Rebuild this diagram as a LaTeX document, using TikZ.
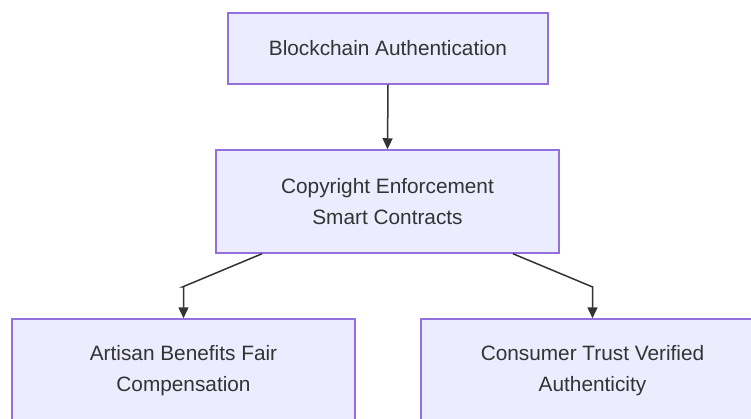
\documentclass[tikz,border=0pt]{standalone}
\usepackage{fontspec}
\setmainfont{Liberation Sans}
\usetikzlibrary{arrows.meta,calc}
\definecolor{boxfill}{HTML}{ECECFF}
\definecolor{boxline}{HTML}{9370DB}
\definecolor{ink}{HTML}{333333}
\tikzset{
  flowbox/.style={draw=boxline, fill=boxfill, line width=1.5pt, text=ink,
    align=center, inner sep=0pt, minimum width=343pt, minimum height=103pt,
    font=\fontsize{20.8}{31}\selectfont},
  arr/.style={draw=ink, line width=1.5pt, -{Triangle[length=11pt,width=10pt]}}
}
\begin{document}
\begin{tikzpicture}[x=1pt,y=-1pt]
\useasboundingbox (0,0) rectangle (751,419);
\clip (0,0) rectangle (751,419);
\fill[white] (0,0) rectangle (751,419);
\node[flowbox, minimum width=320pt, minimum height=71pt] (top) at (388,48.5) {Blockchain Authentication};
\node[flowbox] (mid) at (387.5,201.5) {Copyright Enforcement\\Smart Contracts};
\node[flowbox] (left) at (183.5,370.5) {Artisan Benefits Fair\\Compensation};
\node[flowbox] (right) at (592.5,370.5) {Consumer Trust Verified\\Authenticity};
\draw[arr] (top.south) -- (mid.north);
\draw[arr] ([xshift=-125.5pt]mid.south) -- ++(-79,33) -| (left.north);
\draw[arr] ([xshift=125.5pt]mid.south) -- ++(79,33) -| (right.north);
\end{tikzpicture}
\end{document}
